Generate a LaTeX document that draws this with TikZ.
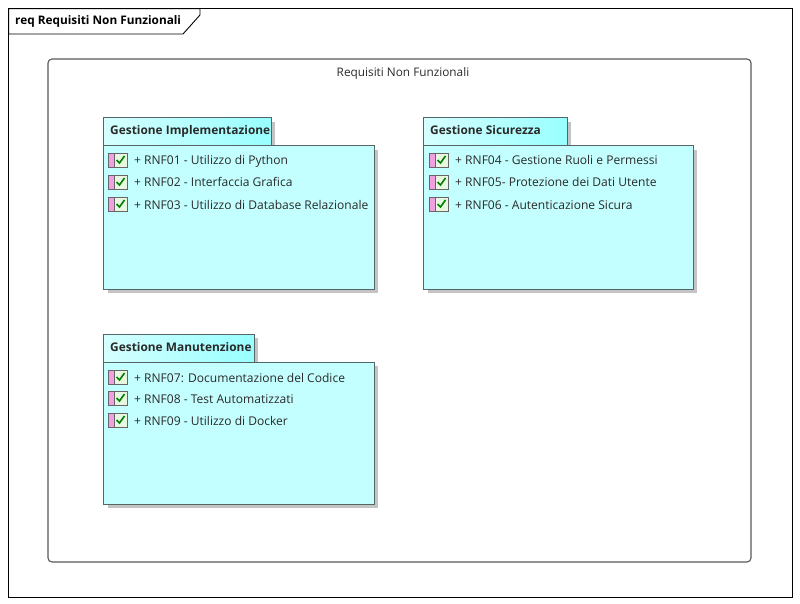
\documentclass[tikz,border=0pt]{standalone}
\usepackage{fontspec}
\setmainfont{Open Sans}
\definecolor{bodycy}{HTML}{C4FFFF}
\definecolor{tabcy}{HTML}{98FFFF}
\definecolor{tablt}{HTML}{D6FFFF}
\definecolor{edgeg}{HTML}{566666}
\definecolor{txt}{HTML}{2A2A2A}
\definecolor{shad}{HTML}{C4C4C4}
\definecolor{pinkb}{HTML}{F0A0E0}
\definecolor{chkbg}{HTML}{E8F8E0}
\definecolor{chk}{HTML}{008000}
\tikzset{
  x=1pt,y=-1pt,
  pkgbody/.style={draw=edgeg,line width=1pt,fill=bodycy},
  pkgtab/.style={draw=edgeg,line width=1pt,left color=tablt,right color=tabcy},
  shadowbox/.style={fill=shad,draw=none},
  pkgtitle/.style={anchor=base west,inner sep=0pt,font=\fontsize{11.9}{14}\selectfont\bfseries,text=txt},
  reqtext/.style={anchor=base west,inner sep=0pt,font=\fontsize{12.05}{14}\selectfont,text=txt},
  boundary/.style={draw=black!65,line width=1.1pt,rounded corners=4pt},
  framepen/.style={draw=black,line width=.9pt},
}
\newcommand{\reqicon}[2]{%
  \fill[pinkb,draw=black!60,line width=.8pt] (#1,#2-7) rectangle (#1+6,#2+7);
  \fill[chkbg,draw=black!60,line width=.8pt] (#1+6,#2-7) rectangle (#1+19,#2+7);
  \draw[chk,line width=1.6pt] (#1+8.5,#2) -- (#1+11.5,#2+3) -- (#1+16.5,#2-4);
}
\begin{document}
\begin{tikzpicture}
\useasboundingbox (0,0) rectangle (800,604);
\fill[white] (0,0) rectangle (800,604);
% frame
\draw[framepen] (8.7,8.7) rectangle (792,597);
\draw[framepen] (8.7,8.7) -- (200,8.7) -- (200,15) -- (183,34) -- (8.7,34) -- cycle;
\node[anchor=base west,inner sep=0pt,font=\fontsize{11.8}{14}\selectfont\bfseries,text=black] (frametitle) at (15,25) {req Requisiti Non Funzionali};
% boundary
\draw[boundary] (48,59) rectangle (751,562);
\node[anchor=base,inner sep=0pt,font=\fontsize{11.8}{14}\selectfont,text=txt] (boundtitle) at (403,77) {Requisiti Non Funzionali};
% Gestione Implementazione
\fill[shadowbox] (108,150) rectangle (378,293);
\fill[shadowbox] (108,122) rectangle (275,150);
\draw[pkgtab] (103,118) rectangle (271,146);
\draw[pkgbody] (103,145.5) rectangle (374,289);
\node[pkgtitle] (t1) at (110,135) {Gestione Implementazione};
\reqicon{108}{160}\node[reqtext] (r1) at (134,165) {+ RNF01 - Utilizzo di Python};
\reqicon{108}{182}\node[reqtext] (r2) at (134,187) {+ RNF02 - Interfaccia Grafica};
\reqicon{108}{204}\node[reqtext] (r3) at (134,209) {+ RNF03 - Utilizzo di Database Relazionale};
% Gestione Sicurezza
\fill[shadowbox] (428,150) rectangle (697,293);
\fill[shadowbox] (428,122) rectangle (571,150);
\draw[pkgtab] (423,118) rectangle (567,146);
\draw[pkgbody] (423,145.5) rectangle (693,289);
\node[pkgtitle] (t2) at (430,135) {Gestione Sicurezza};
\reqicon{429}{160}\node[reqtext] (r4) at (455,165) {+ RNF04 - Gestione Ruoli e Permessi};
\reqicon{429}{182}\node[reqtext] (r5) at (455,187) {+ RNF05- Protezione dei Dati Utente};
\reqicon{429}{204}\node[reqtext] (r6) at (455,209) {+ RNF06 - Autenticazione Sicura};
% Gestione Manutenzione
\fill[shadowbox] (108,366) rectangle (378,508);
\fill[shadowbox] (108,338) rectangle (258,366);
\draw[pkgtab] (103,334) rectangle (254,362);
\draw[pkgbody] (103,362) rectangle (374,504);
\node[pkgtitle] (t3) at (110,351) {Gestione Manutenzione};
\reqicon{108}{377}\node[reqtext] (r7) at (134,382) {+ RNF07: Documentazione del Codice};
\reqicon{108}{398}\node[reqtext] (r8) at (134,403) {+ RNF08 - Test Automatizzati};
\reqicon{108}{420}\node[reqtext] (r9) at (134,425) {+ RNF09 - Utilizzo di Docker};
\end{tikzpicture}
\end{document}
